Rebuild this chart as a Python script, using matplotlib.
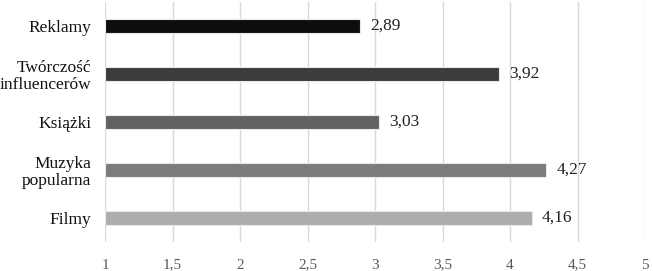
import matplotlib.pyplot as plt

categories = ["Reklamy", "Twórczość\ninfluencerów", "Książki", "Muzyka\npopularna", "Filmy"]
values = [2.89, 3.92, 3.03, 4.27, 4.16]
colors = ["#0d0d0d", "#3b3b3b", "#626262", "#7b7b7b", "#adadad"]
xticks = [1, 1.5, 2, 2.5, 3, 3.5, 4, 4.5, 5]
xtick_labels = ["1", "1,5", "2", "2,5", "3", "3,5", "4", "4,5", "5"]

plt.rcParams["font.family"] = ["Liberation Serif", "DejaVu Serif"]

fig = plt.figure(figsize=(6.53, 2.71), dpi=100)
ax = fig.add_axes([105 / 653, 29 / 271, 540 / 653, 240 / 271])

pos = list(range(len(categories)))
ax.barh(pos, [v - 1 for v in values], left=1, height=0.31, color=colors,
        edgecolor="#e8e8e8", linewidth=0.8, zorder=3)
for p, v in zip(pos, values):
    ax.text(v + 0.075, p, f"{v:.2f}".replace(".", ","), va="center", ha="left",
            fontsize=12.5, color="#222222")

ax.set_xlim(1, 5)
ax.set_ylim(len(categories) - 0.5, -0.5)
ax.set_yticks(pos)
ax.set_yticklabels(categories, fontsize=12.5, color="#111111", linespacing=1.1)
ax.set_xticks(xticks)
ax.set_xticklabels(xtick_labels, fontsize=11, color="#595959")
ax.tick_params(axis="x", length=0, pad=12)
ax.tick_params(axis="y", length=0, pad=10)
ax.grid(axis="x", color="#d9d9d9", linewidth=1, zorder=0)
for s in ax.spines.values():
    s.set_visible(False)

fig.savefig("out.png", dpi=100)
